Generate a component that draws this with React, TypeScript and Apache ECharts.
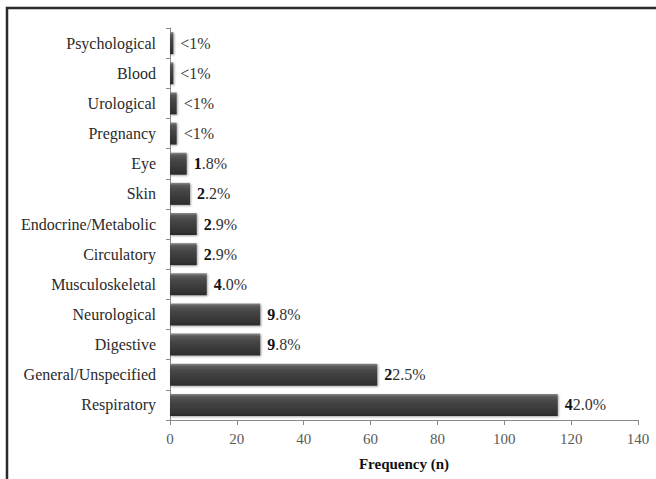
import React, { useEffect, useRef } from "react";
import * as echarts from "echarts";

const categories = [
  "Psychological",
  "Blood",
  "Urological",
  "Pregnancy",
  "Eye",
  "Skin",
  "Endocrine/Metabolic",
  "Circulatory",
  "Musculoskeletal",
  "Neurological",
  "Digestive",
  "General/Unspecified",
  "Respiratory",
];
const frequencies = [1, 1, 2, 2, 5, 6, 8, 8, 11, 27, 27, 62, 116];
const percentLabels = ["<1%", "<1%", "<1%", "<1%", "1.8%", "2.2%", "2.9%", "2.9%", "4.0%", "9.8%", "9.8%", "22.5%", "42.0%"];
const xTicks = { min: 0, max: 140, interval: 20 };
const axisTitle = "Frequency (n)";

const FONT = "Times New Roman, serif";

export default function App() {
  const ref = useRef<HTMLDivElement>(null);
  useEffect(() => {
    if (!ref.current) return;
    const chart = echarts.init(ref.current, null, { renderer: "svg" });
    chart.setOption({
      animation: false,
      backgroundColor: "#ffffff",
      textStyle: { fontFamily: FONT },
      grid: { left: 170, right: 18, top: 28, bottom: 59, containLabel: false },
      xAxis: {
        type: "value",
        min: xTicks.min,
        max: xTicks.max,
        interval: xTicks.interval,
        name: axisTitle,
        nameLocation: "middle",
        nameGap: 36,
        nameTextStyle: { fontFamily: FONT, fontSize: 15, fontWeight: "bold", color: "#111" },
        axisLine: { show: true, lineStyle: { color: "#8a8a8a", width: 1 } },
        axisTick: { show: true, length: 5, lineStyle: { color: "#8a8a8a" } },
        axisLabel: { fontFamily: FONT, fontSize: 15, color: "#5a5a5a", margin: 11 },
        splitLine: { show: false },
      },
      yAxis: {
        type: "category",
        data: categories,
        inverse: true,
        axisLine: { show: true, lineStyle: { color: "#8a8a8a", width: 1 } },
        axisTick: { show: true, length: 4, lineStyle: { color: "#8a8a8a" } },
        axisLabel: { fontFamily: FONT, fontSize: 16, color: "#2a2a2a", margin: 14 },
      },
      series: [
        {
          type: "bar",
          data: frequencies,
          barCategoryGap: "27%",
          itemStyle: {
            color: new echarts.graphic.LinearGradient(0, 0, 0, 1, [
              { offset: 0, color: "#8a8a8a" },
              { offset: 0.12, color: "#5a5a5a" },
              { offset: 0.35, color: "#464646" },
              { offset: 0.85, color: "#333333" },
              { offset: 1, color: "#2a2a2a" },
            ]),
            shadowColor: "rgba(0,0,0,0.35)",
            shadowBlur: 2,
            shadowOffsetX: 1,
            shadowOffsetY: 1,
          },
          label: {
            show: true,
            position: "right",
            distance: 7,
            formatter: (p: any) => {
              const s = percentLabels[p.dataIndex];
              if (s.startsWith("<")) return "{n|" + s + "}";
              return "{b|" + s.charAt(0) + "}{n|" + s.slice(1) + "}";
            },
            rich: {
              b: { fontFamily: FONT, fontSize: 16, fontWeight: "bold", color: "#111" },
              n: { fontFamily: FONT, fontSize: 16, color: "#333" },
            },
          },
        },
      ],
      graphic: [
        {
          type: "rect",
          shape: { x: 7, y: 8, width: 700, height: 520 },
          style: { fill: "none", stroke: "#2a2a2a", lineWidth: 2.5 },
          silent: true,
        },
      ],
    });
    return () => chart.dispose();
  }, []);
  return <div ref={ref} style={{ position: "fixed", left: 0, top: 0, width: 656, height: 479 }} />;
}
